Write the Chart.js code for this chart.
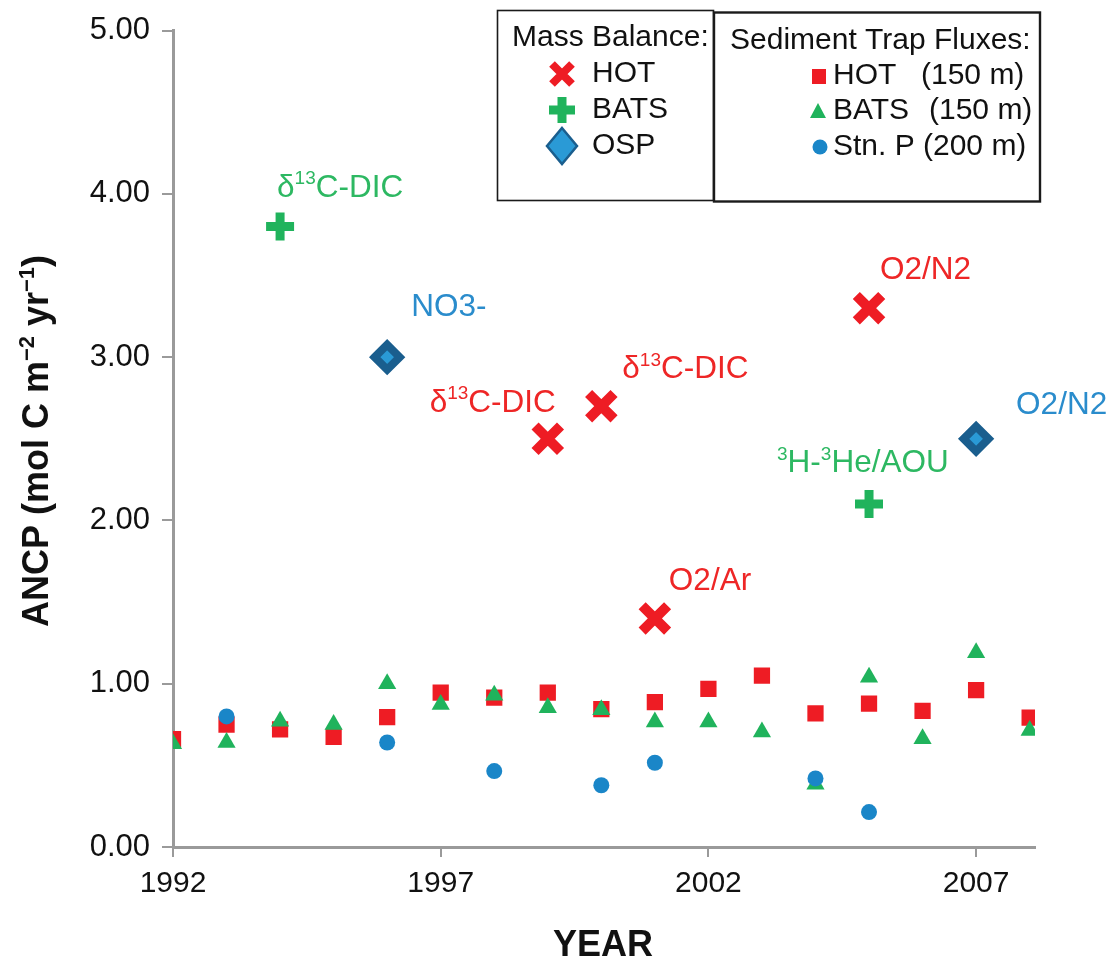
<!DOCTYPE html>
<html>
<head>
<meta charset="utf-8">
<script src="https://cdn.jsdelivr.net/npm/chart.js@4.4.1/dist/chart.umd.min.js"></script>
<style>
html,body{margin:0;padding:0;background:#fff;}
canvas{display:block;}
</style>
</head>
<body>
<canvas id="c" width="1114" height="960"></canvas>
<script>
// ---------------- DATA ----------------
const trapYears = [1992,1993,1994,1995,1996,1997,1998,1999,2000,2001,2002,2003,2004,2005,2006,2007,2008];
const hotTrap  = [0.66,0.75,0.72,0.675,0.795,0.945,0.915,0.945,0.845,0.888,0.969,1.05,0.818,0.878,0.833,0.961,0.792];
const batsTrap = [0.633,0.64,0.77,0.75,1.00,0.873,0.93,0.853,0.84,0.765,0.765,0.704,0.384,1.04,0.663,1.19,0.714];
const stnPYears = [1993,1996,1998,2000,2001,2004,2005];
const stnPTrap  = [0.80,0.64,0.465,0.378,0.516,0.42,0.214];

const hotMBYears  = [1999,2000,2001,2005];
const hotMB       = [2.50,2.70,1.40,3.30];
const hotMBLabels = ['δ|13|C-DIC','δ|13|C-DIC','O2/Ar','O2/N2'];

const batsMBYears  = [1994,2005];
const batsMB       = [3.80,2.10];
const batsMBLabels = ['δ|13|C-DIC','|3|H-|3|He/AOU'];

const ospMBYears  = [1996,2007];
const ospMB       = [3.00,2.50];
const ospMBLabels = ['NO3-','O2/N2'];

const xTicks = [1992,1997,2002,2007];
const yTicks = [0,1,2,3,4,5];

// ---------------- STYLE ----------------
const RED = '#ee1c24', GREEN = '#20b35c', BLUE = '#1a86c8';
const OSP_BORDER = '#1a5e8e', OSP_FILL = '#2a9ad6';
const LBL_RED = '#ee2626', LBL_GREEN = '#2db862', LBL_BLUE = '#2a8ccc';
const FONT = '"Liberation Sans", Arial, Helvetica, sans-serif';
const AXIS_GRAY = '#9a9a9a';

// label offsets (pixels from the marker), per mass-balance dataset
const labelOffsets = {
  hotMB:  [{dx:8,dy:-27,align:'right'},{dx:21,dy:-28,align:'left'},{dx:14,dy:-28,align:'left'},{dx:11,dy:-29,align:'left'}],
  batsMB: [{dx:-3,dy:-30,align:'left'},{dx:-92,dy:-32,align:'left'}],
  ospMB:  [{dx:24,dy:-41,align:'left'},{dx:40,dy:-25,align:'left'}]
};

const pts = (xs, ys) => xs.map((x,i)=>({x:x, y:ys[i]}));

// rich text: segments separated by '|', odd indices are superscripts
function richSegments(str){
  return str.split('|').map((t,i)=>({t:t, sup: i%2===1}));
}
function drawRich(ctx, str, x, y, align, size, color, bold){
  const segs = richSegments(str);
  const w = bold ? 'bold ' : '';
  const base = w + size + 'px ' + FONT;
  const sup = w + Math.round(size*0.6) + 'px ' + FONT;
  let total = 0;
  segs.forEach(s=>{ ctx.font = s.sup ? sup : base; s.w = ctx.measureText(s.t).width; total += s.w; });
  let cx = align === 'right' ? x - total : (align === 'center' ? x - total/2 : x);
  ctx.fillStyle = color;
  ctx.textAlign = 'left';
  ctx.textBaseline = 'alphabetic';
  segs.forEach(s=>{
    ctx.font = s.sup ? sup : base;
    ctx.fillText(s.t, cx, s.sup ? y - size*0.40 : y);
    cx += s.w;
  });
}

const annotationPlugin = {
  id: 'annot',
  afterDatasetsDraw(chart){
    const ctx = chart.ctx;
    ctx.save();
    const sets = [
      {idx:3, key:'hotMB', labels:hotMBLabels, color:LBL_RED},
      {idx:4, key:'batsMB', labels:batsMBLabels, color:LBL_GREEN},
      {idx:5, key:'ospMB', labels:ospMBLabels, color:LBL_BLUE}
    ];
    sets.forEach(s=>{
      const meta = chart.getDatasetMeta(s.idx);
      meta.data.forEach((el,i)=>{
        const o = labelOffsets[s.key][i];
        drawRich(ctx, s.labels[i], el.x + o.dx, el.y + o.dy, o.align, 31.5, s.color, false);
      });
    });
    ctx.restore();
  },
  afterDraw(chart){
    const ctx = chart.ctx;
    ctx.save();
    // Y axis title
    ctx.save();
    ctx.translate(48, 441);
    ctx.rotate(-Math.PI/2);
    drawRich(ctx, 'ANCP (mol C m|−2| yr|−1|)', 0, 0, 'center', 36, '#111', true);
    ctx.restore();
    // X axis title
    ctx.font = 'bold 36px ' + FONT;
    ctx.fillStyle = '#111';
    ctx.textAlign = 'center';
    ctx.textBaseline = 'alphabetic';
    ctx.fillText('YEAR', 603, 956);

    // Legend boxes
    ctx.strokeStyle = '#1a1a1a';
    ctx.lineWidth = 1.6;
    ctx.strokeRect(497.5, 10.5, 216, 190);
    ctx.lineWidth = 2.4;
    ctx.strokeRect(714, 12.5, 326, 189);

    ctx.fillStyle = '#111';
    ctx.textAlign = 'left';
    ctx.textBaseline = 'middle';
    ctx.font = '30px ' + FONT;
    ctx.fillText('Mass Balance:', 512, 38);
    ctx.fillText('Sediment Trap Fluxes:', 730, 41);

    const mbRows = [74,110,146];
    ctx.fillText('HOT', 592, mbRows[0]);
    ctx.fillText('BATS', 592, mbRows[1]);
    ctx.fillText('OSP', 592, mbRows[2]);
    // X marker
    ctx.strokeStyle = RED; ctx.lineWidth = 8;
    let cx = 562, cy = mbRows[0];
    ctx.beginPath();
    ctx.moveTo(cx-10,cy-10); ctx.lineTo(cx+10,cy+10);
    ctx.moveTo(cx+10,cy-10); ctx.lineTo(cx-10,cy+10);
    ctx.stroke();
    // plus marker
    ctx.strokeStyle = GREEN; ctx.lineWidth = 9;
    cy = mbRows[1];
    ctx.beginPath();
    ctx.moveTo(cx-13,cy); ctx.lineTo(cx+13,cy);
    ctx.moveTo(cx,cy-13); ctx.lineTo(cx,cy+13);
    ctx.stroke();
    // diamond marker
    cy = mbRows[2];
    ctx.beginPath();
    ctx.moveTo(cx, cy-18); ctx.lineTo(cx+15, cy); ctx.lineTo(cx, cy+18); ctx.lineTo(cx-15, cy); ctx.closePath();
    ctx.fillStyle = OSP_FILL; ctx.fill();
    ctx.strokeStyle = OSP_BORDER; ctx.lineWidth = 2.5; ctx.stroke();

    const stRows = [76,111,147];
    ctx.fillStyle = '#111';
    ctx.fillText('HOT', 833, stRows[0]);
    ctx.fillText('BATS', 833, stRows[1]);
    ctx.fillText('Stn. P', 833, stRows[2]);
    ctx.fillText('(150 m)', 921, stRows[0]);
    ctx.fillText('(150 m)', 929, stRows[1]);
    ctx.fillText('(200 m)', 923, stRows[2]);
    // square
    ctx.fillStyle = RED;
    ctx.fillRect(812, stRows[0]-7, 14, 15);
    // triangle
    ctx.fillStyle = GREEN;
    ctx.beginPath();
    ctx.moveTo(818, stRows[1]-8); ctx.lineTo(826, stRows[1]+7); ctx.lineTo(810, stRows[1]+7); ctx.closePath();
    ctx.fill();
    // circle
    ctx.fillStyle = BLUE;
    ctx.beginPath();
    ctx.arc(820, stRows[2], 7.5, 0, Math.PI*2);
    ctx.fill();
    ctx.restore();
  }
};

new Chart(document.getElementById('c'), {
  type: 'scatter',
  data: {
    datasets: [
      { label:'HOT (150 m)', data: pts(trapYears, hotTrap), pointStyle:'rect', pointRadius:11.5,
        backgroundColor: RED, borderWidth:0, order:6 },
      { label:'BATS (150 m)', data: pts(trapYears, batsTrap), pointStyle:'triangle', pointRadius:10.5,
        backgroundColor: GREEN, borderWidth:0, order:5 },
      { label:'Stn. P (200 m)', data: pts(stnPYears, stnPTrap), pointStyle:'circle', pointRadius:8,
        backgroundColor: BLUE, borderWidth:0, order:4 },
      { label:'HOT', data: pts(hotMBYears, hotMB), pointStyle:'crossRot', pointRadius:18,
        borderColor: RED, backgroundColor: RED, borderWidth:10, order:3 },
      { label:'BATS', data: pts(batsMBYears, batsMB), pointStyle:'cross', pointRadius:14,
        borderColor: GREEN, backgroundColor: GREEN, borderWidth:9, order:2 },
      { label:'OSP', data: pts(ospMBYears, ospMB), pointStyle:'rectRot', pointRadius:12.5,
        borderColor: OSP_BORDER, backgroundColor: OSP_FILL, borderWidth:8, order:1 }
    ]
  },
  options: {
    responsive: false,
    animation: false,
    events: [],
    layout: { padding: { left:0, right:79, top:23, bottom:0 } },
    plugins: { legend:{display:false}, tooltip:{enabled:false}, title:{display:false} },
    scales: {
      x: {
        type:'linear', min:1992, max:2008.1,
        afterBuildTicks: s => { s.ticks = xTicks.map(v=>({value:v})); },
        afterFit: s => { s.height = 113; },
        ticks: { callback: v => String(v), font:{family:FONT, size:30}, color:'#111', padding:9, autoSkip:false, maxRotation:0 },
        grid: { display:true, drawOnChartArea:false, drawTicks:true, tickLength:10, color:AXIS_GRAY, lineWidth:2 },
        border: { display:true, color:AXIS_GRAY, width:3 }
      },
      y: {
        type:'linear', min:0, max:5,
        afterBuildTicks: s => { s.ticks = yTicks.map(v=>({value:v})); },
        afterFit: s => { s.width = 173; },
        ticks: { callback: v => Number(v).toFixed(2), font:{family:FONT, size:31}, color:'#111', padding:12 },
        grid: { display:true, drawOnChartArea:false, drawTicks:true, tickLength:11, color:AXIS_GRAY, lineWidth:2 },
        border: { display:true, color:AXIS_GRAY, width:3 }
      }
    }
  },
  plugins: [annotationPlugin]
});
</script>
</body>
</html>
